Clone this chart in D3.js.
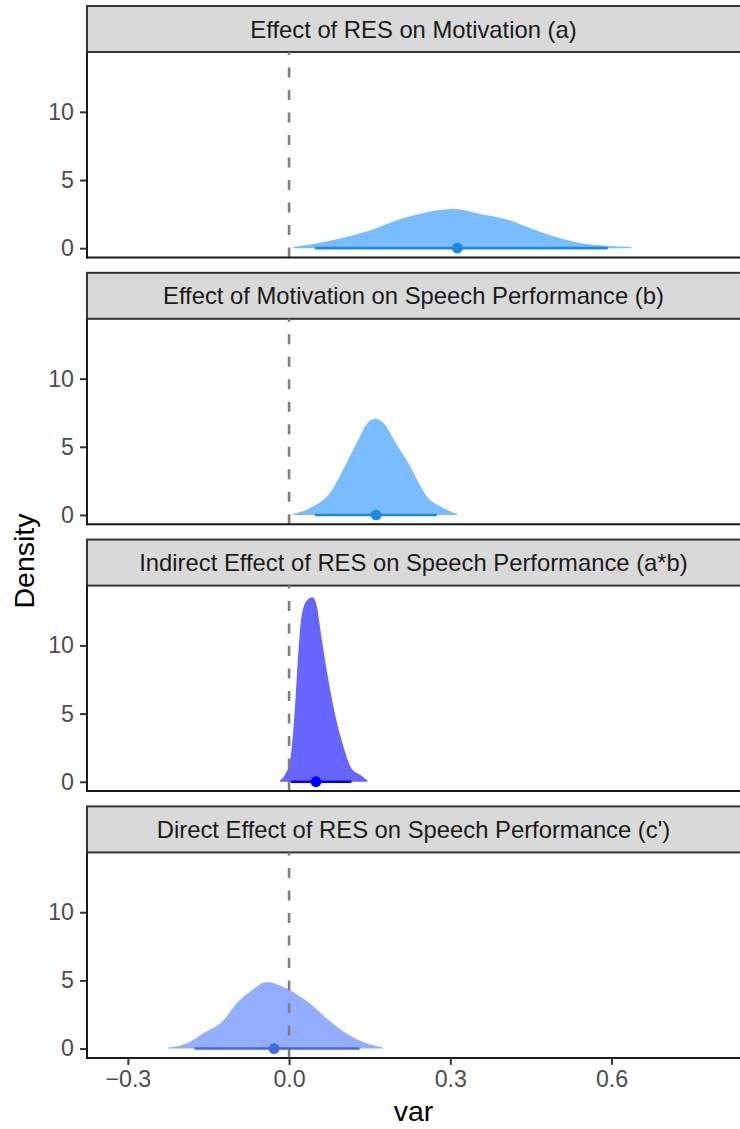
<!DOCTYPE html>
<html>
<head>
<meta charset="utf-8">
<script src="https://cdn.jsdelivr.net/npm/d3@7"></script>
<style>
  html, body { margin: 0; padding: 0; background: #ffffff; }
  svg { display: block; }
  text { font-family: "Liberation Sans", Arial, Helvetica, sans-serif; }
</style>
</head>
<body>
<svg id="chart" width="740" height="1129"></svg>
<script>
// Facet titles, top to bottom
const facetTitles = [
  "Effect of RES on Motivation (a)",
  "Effect of Motivation on Speech Performance (b)",
  "Indirect Effect of RES on Speech Performance (a*b)",
  "Direct Effect of RES on Speech Performance (c')"
];

// Posterior density curves (x = effect value, y = density)
const aX    = [0.008, 0.045, 0.107, 0.157, 0.200, 0.244, 0.281, 0.306, 0.324, 0.355, 0.405, 0.448, 0.492, 0.541, 0.591, 0.637];
const aDens = [0.09, 0.31, 0.82, 1.38, 2.04, 2.53, 2.80, 2.90, 2.80, 2.51, 2.11, 1.48, 0.87, 0.38, 0.18, 0.09];

const bX    = [0.008, 0.045, 0.076, 0.107, 0.126, 0.144, 0.160, 0.175, 0.200, 0.225, 0.240, 0.256, 0.281, 0.313];
const bDens = [0.07, 0.63, 1.62, 3.82, 5.29, 6.64, 7.06, 6.76, 5.17, 3.57, 2.45, 1.37, 0.63, 0.07];

const abX    = [-0.017, -0.008, 0.002, 0.011, 0.017, 0.023, 0.033, 0.044, 0.051, 0.061, 0.073, 0.085, 0.101, 0.116, 0.132, 0.146];
const abDens = [0.10, 0.50, 1.60, 5.50, 9.40, 12.10, 13.30, 13.54, 12.98, 10.40, 7.48, 5.04, 2.59, 1.00, 0.51, 0.10];

const cX    = [-0.225, -0.191, -0.160, -0.122, -0.098, -0.067, -0.042, -0.017, 0.008, 0.039, 0.070, 0.107, 0.138, 0.175];
const cDens = [0.07, 0.37, 1.10, 2.07, 3.30, 4.34, 4.88, 4.63, 4.14, 3.30, 2.20, 1.10, 0.48, 0.07];

// Point estimates and interval bounds per facet
const pointEstimate = [0.313, 0.162, 0.050, -0.028];
const intervalLow   = [0.048, 0.048, 0.003, -0.176];
const intervalHigh  = [0.593, 0.275, 0.116, 0.131];

// Axis ticks and ranges
const xTicks = [-0.3, 0.0, 0.3, 0.6];
const yTicks = [0, 5, 10];
const xDomain = [-0.376, 0.839];
const yDomain = [-0.685, 14.39];

// Colours per facet
const fillColors = ["#79bcff", "#79bcff", "#6666ff", "#93aefc"];
const lineColors = ["#1e88e5", "#1e88e5", "#0000ff", "#4169e1"];

const curves = [
  d3.zip(aX, aDens),
  d3.zip(bX, bDens),
  d3.zip(abX, abDens),
  d3.zip(cX, cDens)
];

const svg = d3.select("#chart");

const left = 87, right = 740;
const firstStripTop = 6, facetStep = 266.8, stripH = 46, panelH = 205.5;
const tickFont = 23.2, stripFont = 23.8, titleFont = 28.5;
const fontStack = "'Liberation Sans', Arial, Helvetica, sans-serif";

const x = d3.scaleLinear().domain(xDomain).range([left, right]);
const fmt = d3.format(".1f");

facetTitles.forEach((title, i) => {
  const stripTop = firstStripTop + i * facetStep;
  const panelTop = stripTop + stripH;
  const panelBottom = panelTop + panelH;
  const y = d3.scaleLinear().domain(yDomain).range([panelBottom, panelTop]);
  const g = svg.append("g");

  // strip
  g.append("rect")
    .attr("x", left).attr("y", stripTop)
    .attr("width", right - left + 4).attr("height", stripH)
    .attr("fill", "#d9d9d9").attr("stroke", "#333333").attr("stroke-width", 2);
  g.append("text")
    .attr("x", (left + right) / 2).attr("y", stripTop + stripH / 2)
    .attr("dy", "0.36em").attr("text-anchor", "middle")
    .attr("font-size", stripFont).attr("fill", "#1a1a1a")
    .text(title);

  // density half-eye
  const area = d3.area()
    .x(d => x(d[0]))
    .y0(y(0))
    .y1(d => y(d[1]))
    .curve(d3.curveMonotoneX);
  g.append("path")
    .datum(curves[i])
    .attr("d", area)
    .attr("fill", fillColors[i]);

  // zero reference line
  g.append("line")
    .attr("x1", x(0)).attr("x2", x(0))
    .attr("y1", panelBottom).attr("y2", panelTop)
    .attr("stroke", "#7f7f7f").attr("stroke-width", 2.6)
    .attr("stroke-dasharray", "10 12.5");

  // interval and point estimate
  g.append("line")
    .attr("x1", x(intervalLow[i])).attr("x2", x(intervalHigh[i]))
    .attr("y1", y(0)).attr("y2", y(0))
    .attr("stroke", lineColors[i]).attr("stroke-width", 2.6);
  g.append("circle")
    .attr("cx", x(pointEstimate[i])).attr("cy", y(0))
    .attr("r", 5.4).attr("fill", lineColors[i]);

  // y axis
  const yAxis = g.append("g").attr("transform", `translate(${left},0)`)
    .call(d3.axisLeft(y).tickValues(yTicks).tickSize(7).tickPadding(6).tickFormat(d3.format("d")));
  yAxis.select(".domain").remove();
  yAxis.selectAll(".tick line").attr("stroke", "#333333").attr("stroke-width", 2);
  yAxis.selectAll(".tick text").attr("font-size", tickFont).attr("fill", "#4d4d4d")
    .attr("font-family", fontStack);

  // axis lines
  g.append("line")
    .attr("x1", left).attr("x2", left)
    .attr("y1", panelTop).attr("y2", panelBottom + 1)
    .attr("stroke", "#1a1a1a").attr("stroke-width", 2);
  g.append("line")
    .attr("x1", left - 1).attr("x2", right)
    .attr("y1", panelBottom).attr("y2", panelBottom)
    .attr("stroke", "#1a1a1a").attr("stroke-width", 2);

  // x axis on the bottom facet only
  if (i === facetTitles.length - 1) {
    const xAxis = g.append("g").attr("transform", `translate(0,${panelBottom})`)
      .call(d3.axisBottom(x).tickValues(xTicks).tickSize(7).tickPadding(6).tickFormat(fmt));
    xAxis.select(".domain").remove();
    xAxis.selectAll(".tick line").attr("stroke", "#333333").attr("stroke-width", 2);
    xAxis.selectAll(".tick text").attr("font-size", tickFont).attr("fill", "#4d4d4d")
      .attr("font-family", fontStack);
  }
});

// axis titles
svg.append("text")
  .attr("x", (left + right) / 2).attr("y", 1121)
  .attr("text-anchor", "middle").attr("font-size", titleFont).attr("fill", "#000")
  .text("var");
svg.append("text")
  .attr("transform", "translate(33.5,561) rotate(-90)")
  .attr("text-anchor", "middle").attr("font-size", titleFont).attr("fill", "#000")
  .text("Density");
</script>
</body>
</html>
